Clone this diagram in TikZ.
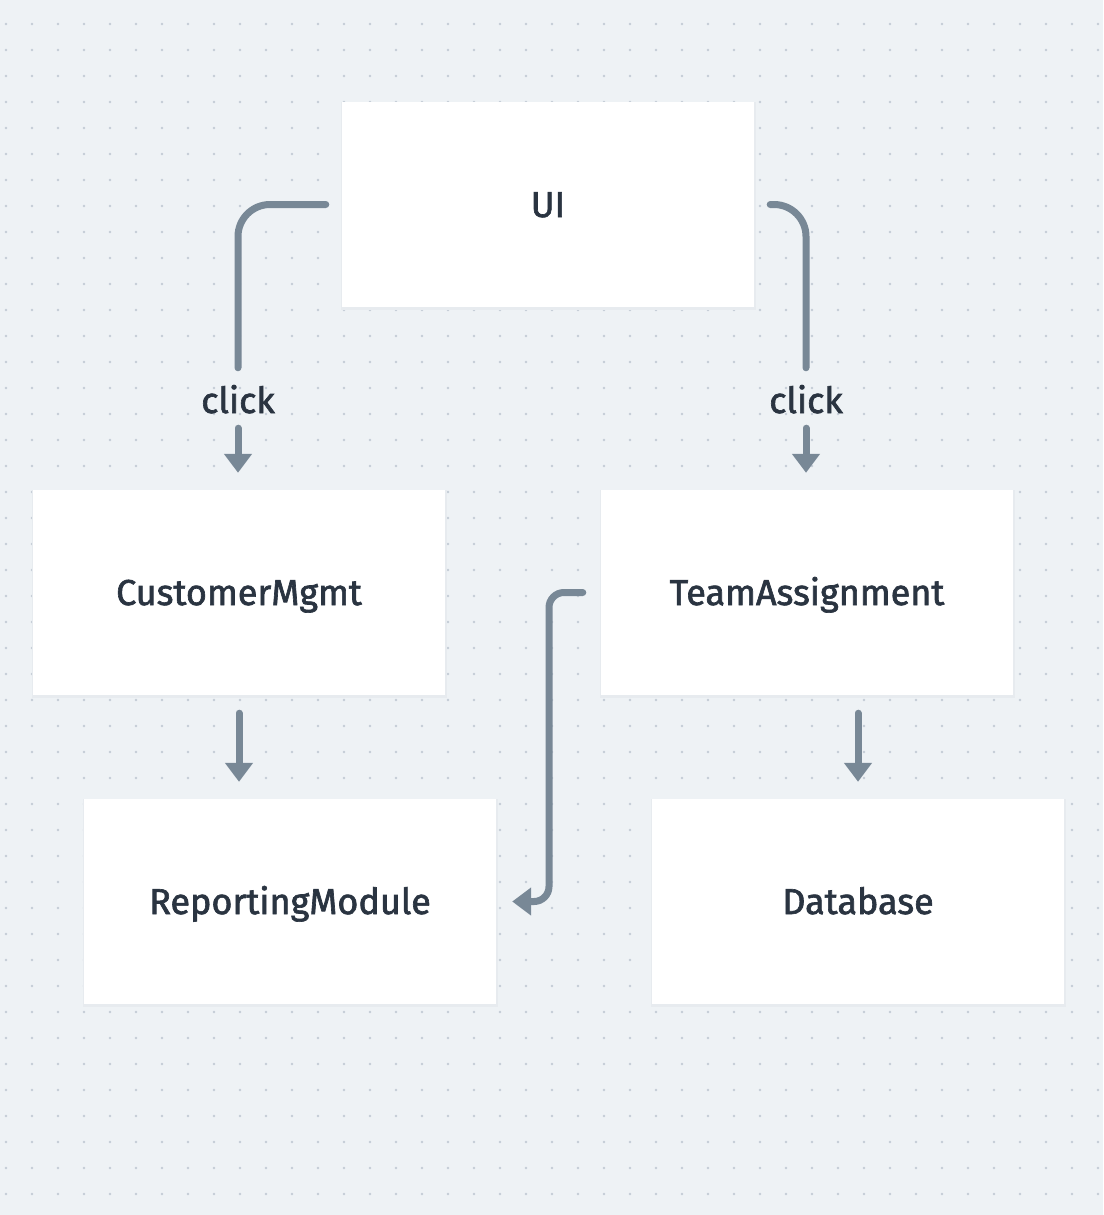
\documentclass[tikz,border=0pt]{standalone}
\usepackage{fontspec}
\setmainfont{Fira Sans}
\newfontfamily\medfont{Fira Sans}[FakeBold=1.8]
\usetikzlibrary{arrows.meta,calc}
\definecolor{bgc}{HTML}{EEF2F5}
\definecolor{dotc}{HTML}{C4CCD6}
\definecolor{linec}{HTML}{788896}
\definecolor{txtc}{HTML}{2A3441}
\definecolor{shadc}{HTML}{E7EBEF}
\tikzset{
  box/.style={draw=none, fill=white, minimum width=412, minimum height=205, inner sep=0,
    font=\medfont\fontsize{36}{40}\selectfont, text=txtc, text height=30pt, text depth=5pt,
    preaction={fill=shadc, draw=shadc, line width=3, transform canvas={yshift=-1}}},
  lbl/.style={inner sep=0, minimum height=60, font=\medfont\fontsize{36}{40}\selectfont, text=txtc,
    text height=30pt, text depth=0pt},
  conn/.style={draw=linec, line width=7, line cap=round},
  arr/.style={conn, -{Triangle[width=27pt,length=19pt]}},
}
\begin{document}
\begin{tikzpicture}[x=1pt,y=-1pt]
\fill[bgc] (0,0) rectangle (1103,1215);
\useasboundingbox (0,0) rectangle (1103,1215);
\foreach \i in {0,...,42}{
  \foreach \j in {-1,...,45}{
    \fill[dotc] ({6+26*\i},{24+26*\j}) circle (1.3);
  }
}
\node[box] (UI) at (548,204.5) {UI};
\node[box] (CM) at (239,592.5) {CustomerMgmt};
\node[box] (TA) at (807,592.5) {TeamAssignment};
\node[box] (RM) at (290,901.5) {ReportingModule};
\node[box] (DB) at (858,901.5) {Database};

\node[lbl] (clickL) at (238,398) {click};
\node[lbl] (clickR) at (806,398) {click};

\draw[conn, rounded corners=32] ([xshift=-16]UI.west) -| (clickL.north);
\draw[arr] (clickL.south) -- ([yshift=17]clickL.south |- CM.north);
\draw[conn, rounded corners=32] ([xshift=16]UI.east) -| (clickR.north);
\draw[arr] (clickR.south) -- ([yshift=17]clickR.south |- TA.north);

\coordinate (cmout) at ([yshift=-18]CM.south);
\draw[arr] (cmout) -- ([yshift=17]cmout |- RM.north);
\coordinate (taout) at ([yshift=-18]TA.south -| DB.north);
\draw[arr] (taout) -- ([yshift=17]DB.north);

\coordinate (bend) at (549,0);
\draw[arr, rounded corners=15] ([xshift=-18]TA.west) -| (bend |- RM.east) -- ([xshift=16]RM.east);
\end{tikzpicture}
\end{document}
